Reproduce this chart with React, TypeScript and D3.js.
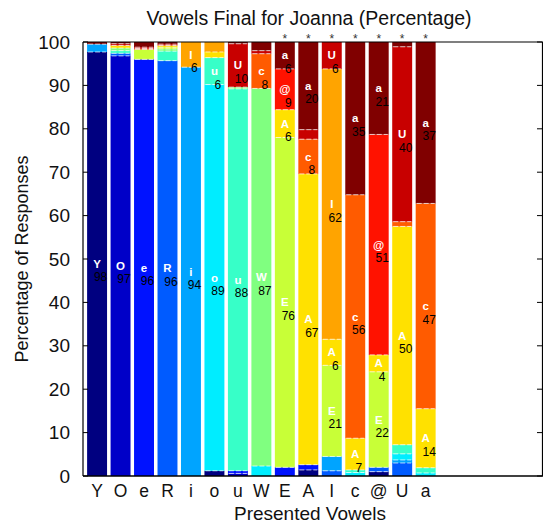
import React from "react";
import * as d3 from "d3";

const vowels = ["Y", "O", "e", "R", "i", "o", "u", "W", "E", "A", "I", "c", "@", "U", "a"];
// response percentages per presented vowel, in response order Y O e R i o u W E A I c @ U a
const pY = [97.7, 0, 0, 0, 1.8, 0, 0, 0, 0, 0, 0, 0, 0, 0, 0.5];
const pO = [0, 96.8, 0, 0.6, 0, 0, 0.6, 0.6, 0, 0.6, 0, 0, 0, 0.4, 0.4];
const pe = [0, 0, 96, 0, 0, 0, 0, 0, 2.3, 0, 0, 0, 0.2, 0.3, 1.2];
const pR = [0, 0, 0, 95.7, 0, 0, 2.2, 0.5, 0.4, 0.4, 0, 0, 0, 0.3, 0.5];
const pi = [0, 0, 0, 0, 94.2, 0, 0, 0, 0, 0, 5.8, 0, 0, 0, 0];
const po = [1.2, 0, 0, 0, 0, 89, 6.2, 0, 0, 1.3, 2.3, 0, 0, 0, 0];
const pu = [0, 0.6, 0.6, 0, 0, 0, 88, 0.4, 0, 0, 0, 0, 0, 10, 0.4];
const pW = [0, 0, 0, 0, 0, 2.3, 0, 87, 0, 0, 0, 8, 0, 0.7, 2.0];
const pE = [0, 0, 2.0, 0, 0, 0, 0, 0, 76, 6.4, 0, 0, 9.4, 0, 6.2];
const pA = [1.4, 0, 1.2, 0, 0, 0, 0, 0, 0, 67, 0, 8, 0, 2.2, 20.2];
const pI = [0, 0, 0, 1.2, 3.3, 0, 0, 0, 21, 6, 62.3, 0, 0, 6.2, 0];
const pc = [0, 0, 0, 0, 0, 0.8, 0.6, 0, 0, 7.3, 0, 56.1, 0, 0, 35.2];
const pAt = [1.0, 0, 0, 1.0, 0, 0, 0, 0, 22, 3.9, 0, 0, 50.8, 0, 21.3];
const pU = [0, 0, 0, 3.0, 0.7, 1.4, 2.1, 0, 0, 50.3, 0, 1.1, 0, 40.3, 1.1];
const pa = [0, 0, 0, 0, 0, 0.7, 1.2, 0, 0, 13.6, 0, 47.3, 0, 0, 37.2];
const starred = ["E", "A", "I", "c", "@", "U", "a"];
const yTicks = [0, 10, 20, 30, 40, 50, 60, 70, 80, 90, 100];

const matrix = [pY, pO, pe, pR, pi, po, pu, pW, pE, pA, pI, pc, pAt, pU, pa];

function jet(t: number) {
  const c = (v: number) => Math.round(255 * Math.max(0, Math.min(1, v)));
  const r = c(1.5 - Math.abs(4 * t - 3));
  const g = c(1.5 - Math.abs(4 * t - 2));
  const b = c(1.5 - Math.abs(4 * t - 1));
  return `rgb(${r},${g},${b})`;
}

const W = 543;
const H = 527;
const FONT = "Liberation Sans, Arial, Helvetica, sans-serif";

export default function App() {
  const x = d3.scaleLinear().domain([0.4, 20]).range([83, 543]);
  const y = d3.scaleLinear().domain([0, 100]).range([476, 42]);
  const barW = x(1.85) - x(1);
  const color = (i: number) => {
    const t = i / (vowels.length - 1);
    return jet(i === 9 ? t + 0.012 : t);
  };

  const bars = matrix.map((row, bi) => {
    const stack: { k: number; y0: number; y1: number; v: number }[] = [];
    let acc = 0;
    row.forEach((v, k) => {
      if (v > 0) {
        stack.push({ k, y0: acc, y1: acc + v, v });
        acc += v;
      }
    });
    return { name: vowels[bi], cx: x(bi + 1), stack };
  });

  return (
    <svg width={W} height={H} style={{ position: "absolute", left: 0, top: 0, background: "#fff" }} fontFamily={FONT}>
      <text x={309} y={25} textAnchor="middle" fontSize={19.5} fill="#111">
        Vowels Final for Joanna (Percentage)
      </text>
      {bars.map((b) => (
        <g key={b.name}>
          {b.stack.map((s) => (
            <rect
              key={s.k}
              x={b.cx - barW / 2}
              width={barW}
              y={y(s.y1)}
              height={y(s.y0) - y(s.y1)}
              fill={color(s.k)}
            />
          ))}
          {b.stack.slice(0, -1).map((s) => (
            <line
              key={"sep" + s.k}
              x1={b.cx - barW / 2 + 1}
              x2={b.cx + barW / 2 - 1}
              y1={y(s.y1)}
              y2={y(s.y1)}
              stroke="#fff"
              strokeOpacity={0.7}
              strokeWidth={1}
              strokeDasharray="5 2"
            />
          ))}
          {b.stack
            .filter((s) => s.v >= 3.5)
            .map((s) => {
              const my = y((s.y0 + s.y1) / 2);
              return (
                <g key={"lab" + s.k}>
                  <text x={b.cx} y={my + 4} textAnchor="middle" fontSize={11.5} fontWeight="bold" fill="#fff">
                    {vowels[s.k]}
                  </text>
                  <text x={b.cx + 3.5} y={my + 17.5} textAnchor="middle" fontSize={12} fill="#000">
                    {Math.round(s.v)}
                  </text>
                </g>
              );
            })}
          {starred.includes(b.name) && (
            <text x={b.cx} y={43} textAnchor="middle" fontSize={12} fill="#333">
              *
            </text>
          )}
          <text x={b.cx} y={497} textAnchor="middle" fontSize={17.5} fill="#111">
            {b.name}
          </text>
        </g>
      ))}
      <line x1={83} x2={543} y1={y(0)} y2={y(0)} stroke="#000" strokeWidth={1.5} />
      <line x1={83} x2={543} y1={y(100)} y2={y(100)} stroke="#000" strokeWidth={1.2} />
      <line x1={83} x2={83} y1={y(0)} y2={y(100)} stroke="#000" strokeWidth={1.2} />
      <line x1={542.5} x2={542.5} y1={y(0)} y2={y(100)} stroke="#000" strokeWidth={1.2} />
      {yTicks.map((t) => (
        <g key={t}>
          <line x1={83} x2={88} y1={y(t)} y2={y(t)} stroke="#000" strokeWidth={1} />
          <line x1={537} x2={542} y1={y(t)} y2={y(t)} stroke="#000" strokeWidth={1} />
          <text x={70} y={y(t) + 6.5} textAnchor="end" fontSize={19} fill="#111">
            {t}
          </text>
        </g>
      ))}
      <text x={310} y={520} textAnchor="middle" fontSize={19} fill="#111">
        Presented Vowels
      </text>
      <text
        transform={`translate(28,${(y(0) + y(100)) / 2}) rotate(-90)`}
        textAnchor="middle"
        fontSize={18}
        fill="#111"
      >
        Percentage of Responses
      </text>
    </svg>
  );
}
